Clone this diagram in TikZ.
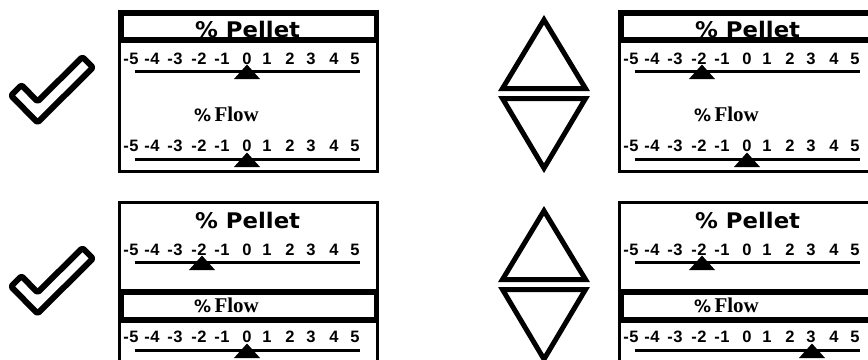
\documentclass[tikz,border=0pt]{standalone}
\usepackage{fontspec}
\usepackage{graphicx}
\newfontfamily\dvs{DejaVu Sans}
\newfontfamily\lsans{Liberation Sans}
\newfontfamily\lserif{Liberation Serif}
\newcommand\mneg{\makebox[0pt][r]{-\kern0.6pt}}
\tikzset{
  frame/.style={draw=black, line width=3pt},
  hdr/.style={draw=black, line width=5.5pt},
  scaleline/.style={draw=black, line width=3pt},
  marker/.style={fill=black},
  digit/.style={anchor=base, inner sep=0pt, font=\lsans\bfseries\fontsize{16.5}{16.5}\selectfont},
  pellet/.style={anchor=base west, inner sep=0pt, font=\dvs\bfseries\fontsize{21.5}{21.5}\selectfont},
  flow/.style={anchor=base west, inner sep=0pt},
  tri/.style={draw=black, line width=5pt, line join=miter},
  check/.style={draw=black, fill=white, line width=6pt, line join=round, rounded corners=1.5pt},
}
% #1 prefix, #2 shift, #3 header (0 = pellet, 1 = flow), #4 marker row 1, #5 marker row 2
\newcommand\mypanel[5]{%
\begin{scope}[shift={#2}]
  \draw[frame] (119.5,11.5) rectangle (377.5,171.5);
  \ifnum#3=0
    \draw[hdr] (120.75,12.75) rectangle (376.25,40);
  \else
    \draw[hdr] (120.75,101) rectangle (376.25,129);
  \fi
  \node[pellet] (#1pel) at (195,37) {\scalebox{1.06}[1]{\%\ Pellet}};
  \node[flow] (#1flo) at (194,121.5) {{\dvs\bfseries\fontsize{17}{17}\selectfont\%}\ {\lserif\bfseries\fontsize{21}{21}\selectfont Flow}};
  \foreach \v/\xx [count=\k] in {\mneg5/134,\mneg4/155,\mneg3/178,\mneg2/202,\mneg1/225,0/247,1/267,2/290,3/311,4/334,5/355}{
    \node[digit] (#1a\k) at (\xx,64) {\v};
    \node[digit] (#1b\k) at (\xx,151.5) {\v};
  }
  \coordinate (#1la) at (135,71.5);
  \coordinate (#1ra) at (360,71.5);
  \coordinate (#1lb) at (135,159.5);
  \coordinate (#1rb) at (360,159.5);
  \draw[scaleline] (#1la) -- (#1ra);
  \draw[scaleline] (#1lb) -- (#1rb);
  \fill[marker] (#4-13,79) -- (#4,64.5) -- (#4+13,79) -- cycle;
  \fill[marker] (#5-13,167) -- (#5,152.5) -- (#5+13,167) -- cycle;
\end{scope}}
\newcommand\mycheck[1]{%
\begin{scope}[shift={#1}]
  \draw[check] (11,95.5) -- (21.5,85) -- (37.5,101.5) -- (82.5,57) -- (93,67.5) -- (37.5,122.5) -- cycle;
\end{scope}}
\newcommand\myarrows[1]{%
\begin{scope}[shift={#1}]
  \draw[tri] (502.5,88.5) -- (544,19.8) -- (585.5,88.5) -- cycle;
  \draw[tri] (502.5,98.5) -- (585.5,98.5) -- (544,168.2) -- cycle;
\end{scope}}
\begin{document}
\begin{tikzpicture}[x=1pt,y=-1pt]
  \useasboundingbox (0,0) rectangle (868,359);
  \clip (0,0) rectangle (868,359);
  \fill[white] (0,0) rectangle (868,359);
  \mycheck{(0,0)}
  \mycheck{(0,191)}
  \myarrows{(0,0)}
  \myarrows{(0,191)}
  \mypanel{p}{(0,0)}{0}{247}{247}
  \mypanel{q}{(500,0)}{0}{202}{247}
  \mypanel{r}{(0,191)}{1}{202}{247}
  \mypanel{s}{(500,191)}{1}{202}{312}
\end{tikzpicture}
\end{document}
